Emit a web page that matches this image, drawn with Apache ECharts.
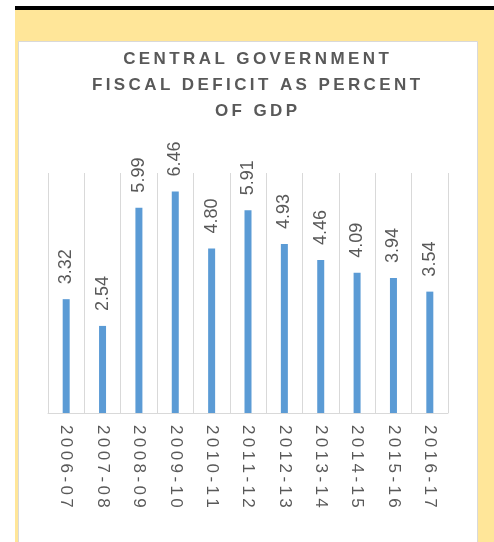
<!DOCTYPE html>
<html>
<head>
<meta charset="utf-8">
<script src="https://cdn.jsdelivr.net/npm/echarts@6/dist/echarts.min.js"></script>
<style>
html,body{margin:0;padding:0;background:#fff;}
#c{width:494px;height:542px;}
</style>
</head>
<body>
<div id="c"></div>
<script>
const categories = ['2006-07','2007-08','2008-09','2009-10','2010-11','2011-12','2012-13','2013-14','2014-15','2015-16','2016-17'];
const deficit = [3.32, 2.54, 5.99, 6.46, 4.80, 5.91, 4.93, 4.46, 4.09, 3.94, 3.54];
const titleLines = ['CENTRAL GOVERNMENT', 'FISCAL DEFICIT AS PERCENT', 'OF GDP'];

const spaced = (s, sp) => s.split('').join(sp);

const chart = echarts.init(document.getElementById('c'), null, {renderer: 'canvas'});
chart.setOption({
  animation: false,
  graphic: [
    {type: 'rect', z: -10, shape: {x: 15, y: 6, width: 479, height: 4}, style: {fill: '#000'}},
    {type: 'rect', z: -10, shape: {x: 15, y: 10, width: 479, height: 532}, style: {fill: '#FFE699'}},
    {type: 'rect', z: -9, shape: {x: 18.5, y: 41.5, width: 459, height: 520}, style: {fill: '#fff', stroke: '#D9D9D9', lineWidth: 1}}
  ],
  title: {
    text: titleLines.map(l => spaced(l, '\u2009')).join('\n'),
    left: 256,
    top: 46,
    padding: 0,
    textAlign: 'center',
    textStyle: {
      fontFamily: 'Liberation Sans',
      fontSize: 17,
      fontWeight: 'bold',
      color: '#595959',
      lineHeight: 26
    }
  },
  grid: {left: 48, right: 46, top: 173, bottom: 129, containLabel: false},
  xAxis: {
    type: 'category',
    data: categories,
    boundaryGap: true,
    axisLine: {show: true, lineStyle: {color: '#D9D9D9', width: 1}},
    axisTick: {show: false},
    splitLine: {show: true, lineStyle: {color: '#D9D9D9', width: 1}},
    axisLabel: {
      rotate: -90,
      margin: 12,
      interval: 0,
      color: '#595959',
      fontFamily: 'Liberation Sans',
      fontSize: 17,
      formatter: v => spaced(v, '\u2009')
    }
  },
  yAxis: {
    type: 'value',
    min: 0,
    max: 7,
    show: false,
    splitLine: {show: false}
  },
  series: [{
    type: 'bar',
    data: deficit,
    barWidth: 7,
    itemStyle: {color: '#5B9BD5'},
    label: {
      show: true,
      position: 'top',
      distance: 15,
      rotate: 90,
      align: 'left',
      verticalAlign: 'middle',
      color: '#595959',
      fontFamily: 'Liberation Sans',
      fontSize: 18,
      formatter: p => p.value.toFixed(2)
    }
  }]
});
</script>
</body>
</html>
